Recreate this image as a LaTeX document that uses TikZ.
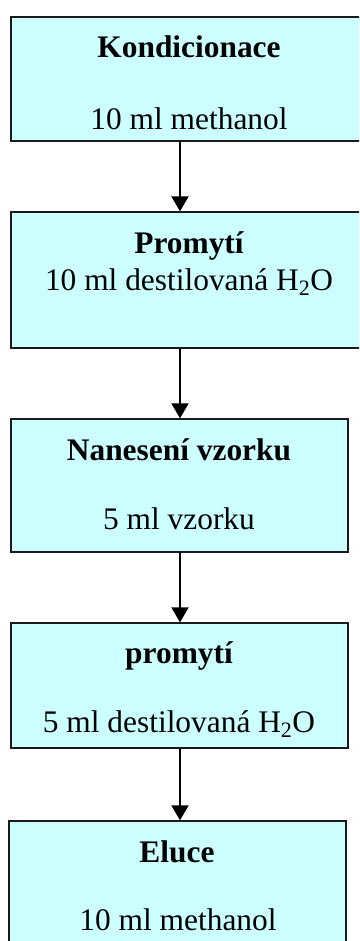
\documentclass[tikz,border=0pt]{standalone}
\usepackage{fontspec}
\setmainfont{Liberation Serif}
\usetikzlibrary{arrows.meta}
\definecolor{boxfill}{HTML}{CCFFFF}
\definecolor{boxline}{HTML}{1A1A1A}
\begin{document}
\begin{tikzpicture}[x=1pt,y=-1pt,
  stepbox/.style={draw=boxline,line width=1.3pt,fill=boxfill,rectangle,inner sep=0pt},
  txt/.style={anchor=base,inner sep=0pt,font=\fontsize{31.4}{36}\selectfont},
  btxt/.style={txt,font=\fontsize{31.4}{36}\selectfont\bfseries},
  arr/.style={line width=2pt,-{Triangle[width=17pt,length=15pt]}}]
\useasboundingbox (0,0) rectangle (359,941);
\clip (0,0) rectangle (359,941);
\node[stepbox,minimum width=356pt,minimum height=124pt] (b1) at (189,79) {};
\node[stepbox,minimum width=356pt,minimum height=136pt] (b2) at (189,280) {};
\node[stepbox,minimum width=337pt,minimum height=133pt] (b3) at (179.5,485.5) {};
\node[stepbox,minimum width=337pt,minimum height=125pt] (b4) at (179.5,685.5) {};
\node[stepbox,minimum width=337pt,minimum height=139pt] (b5) at (177.5,890.5) {};
\node[btxt] (t1a) at (189,58) {Kondicionace};
\node[txt] (t1b) at (189,130) {10 ml methanol};
\node[btxt] (t2a) at (189,253) {Promytí};
\node[txt] (t2b) at (189,290) {10 ml destilovaná H\textsubscript{2}O};
\node[btxt] (t3a) at (179,460) {Nanesení vzorku};
\node[txt] (t3b) at (179,529) {5 ml vzorku};
\node[btxt] (t4a) at (179,663) {promytí};
\node[txt] (t4b) at (179,732) {5 ml destilovaná H\textsubscript{2}O};
\node[btxt] (t5a) at (177,862) {Eluce};
\node[txt] (t5b) at (178,930) {10 ml methanol};
\coordinate (ax) at (180,0);
\draw[arr] (b1.south -| ax) -- (b2.north -| ax);
\draw[arr] (b2.south -| ax) -- (b3.north -| ax);
\draw[arr] (b3.south -| ax) -- (b4.north -| ax);
\draw[arr] (b4.south -| ax) -- (b5.north -| ax);
\end{tikzpicture}
\end{document}
